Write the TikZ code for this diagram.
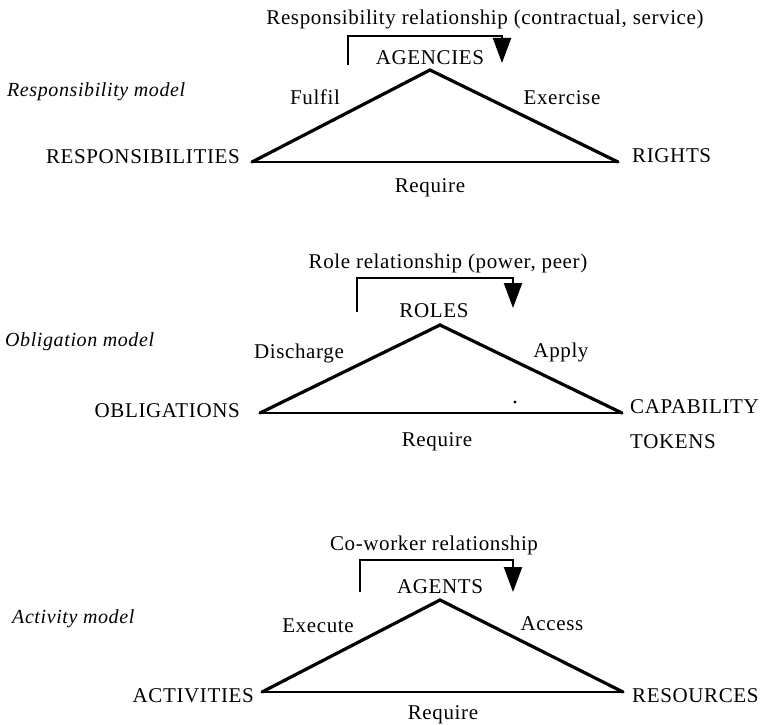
\documentclass[tikz,border=0pt]{standalone}
\usepackage{fontspec}
\setmainfont{Liberation Serif}[LetterSpace=3]
\usetikzlibrary{arrows.meta}
\begin{document}
\begin{tikzpicture}[x=1pt,y=-1pt,
  txt/.style={inner sep=0pt, font=\fontsize{21}{25}\selectfont},
  lbl/.style={txt, anchor=base},
  lftlbl/.style={txt, anchor=base east},
  rgtlbl/.style={txt, anchor=base west},
  mdl/.style={txt, anchor=base west, font=\fontsize{20}{24}\selectfont\itshape},
  side/.style={line width=3.2pt, line join=miter, line cap=round},
  base/.style={line width=2pt},
  rel/.style={line width=2.2pt, -{Triangle[width=18pt,length=25pt]}},
]
\useasboundingbox (0,0) rectangle (772,725);

% ---------- Responsibility model ----------
\node[mdl] (m1) at (7,96) {Responsibility model};
\node[lbl] (r1) at (485,25) {Responsibility relationship (contractual, service)};
\coordinate (b1s) at (348,65);
\coordinate (b1c) at (348,36);
\coordinate (b1r) at (502,36);
\coordinate (b1t) at (502,63);
\draw[rel] (b1s) -- (b1c) -- (b1r) -- (b1t);
\node[lbl] (top1) at (430,65) {AGENCIES};
\coordinate (a1) at (430,70);
\coordinate (l1) at (252,162);
\coordinate (g1) at (618,162);
\draw[side] (l1) -- (a1) -- (g1);
\draw[base] (l1) -- (g1);
\node[lbl] (s1l) at (315,105) {Fulfil};
\node[lbl] (s1r) at (562,105) {Exercise};
\node[lftlbl] (v1l) at (240,163) {RESPONSIBILITIES};
\node[rgtlbl] (v1r) at (632,162) {RIGHTS};
\node[lbl] (q1) at (430,192) {Require};

% ---------- Obligation model ----------
\node[mdl] (m2) at (5,346) {Obligation model};
\node[lbl] (r2) at (448,268) {Role relationship (power, peer)};
\coordinate (b2s) at (357,312);
\coordinate (b2c) at (357,278);
\coordinate (b2r) at (513,278);
\coordinate (b2t) at (513,308);
\draw[rel] (b2s) -- (b2c) -- (b2r) -- (b2t);
\node[lbl] (top2) at (434,317) {ROLES};
\coordinate (a2) at (440,325);
\coordinate (l2) at (260,413);
\coordinate (g2) at (622,413);
\draw[side] (l2) -- (a2) -- (g2);
\draw[base] (l2) -- (g2);
\fill (515,402) circle (1.7pt);
\node[lbl] (s2l) at (299,358) {Discharge};
\node[lbl] (s2r) at (561,357) {Apply};
\node[lftlbl] (v2l) at (240,417) {OBLIGATIONS};
\node[rgtlbl] (v2r) at (630,413) {CAPABILITY};
\node[rgtlbl] (v2r2) at (630,448) {TOKENS};
\node[lbl] (q2) at (437,446) {Require};

% ---------- Activity model ----------
\node[mdl] (m3) at (12,623) {Activity model};
\node[lbl] (r3) at (434,550) {Co-worker relationship};
\coordinate (b3s) at (360,592);
\coordinate (b3c) at (360,560);
\coordinate (b3r) at (513,560);
\coordinate (b3t) at (513,592);
\draw[rel] (b3s) -- (b3c) -- (b3r) -- (b3t);
\node[lbl] (top3) at (440,593) {AGENTS};
\coordinate (a3) at (440,600);
\coordinate (l3) at (262,692);
\coordinate (g3) at (623,692);
\draw[side] (l3) -- (a3) -- (g3);
\draw[base] (l3) -- (g3);
\node[lbl] (s3l) at (318,632) {Execute};
\node[lbl] (s3r) at (552,630) {Access};
\node[lftlbl] (v3l) at (254,702) {ACTIVITIES};
\node[rgtlbl] (v3r) at (632,702) {RESOURCES};
\node[lbl] (q3) at (443,719) {Require};
\end{tikzpicture}
\end{document}
